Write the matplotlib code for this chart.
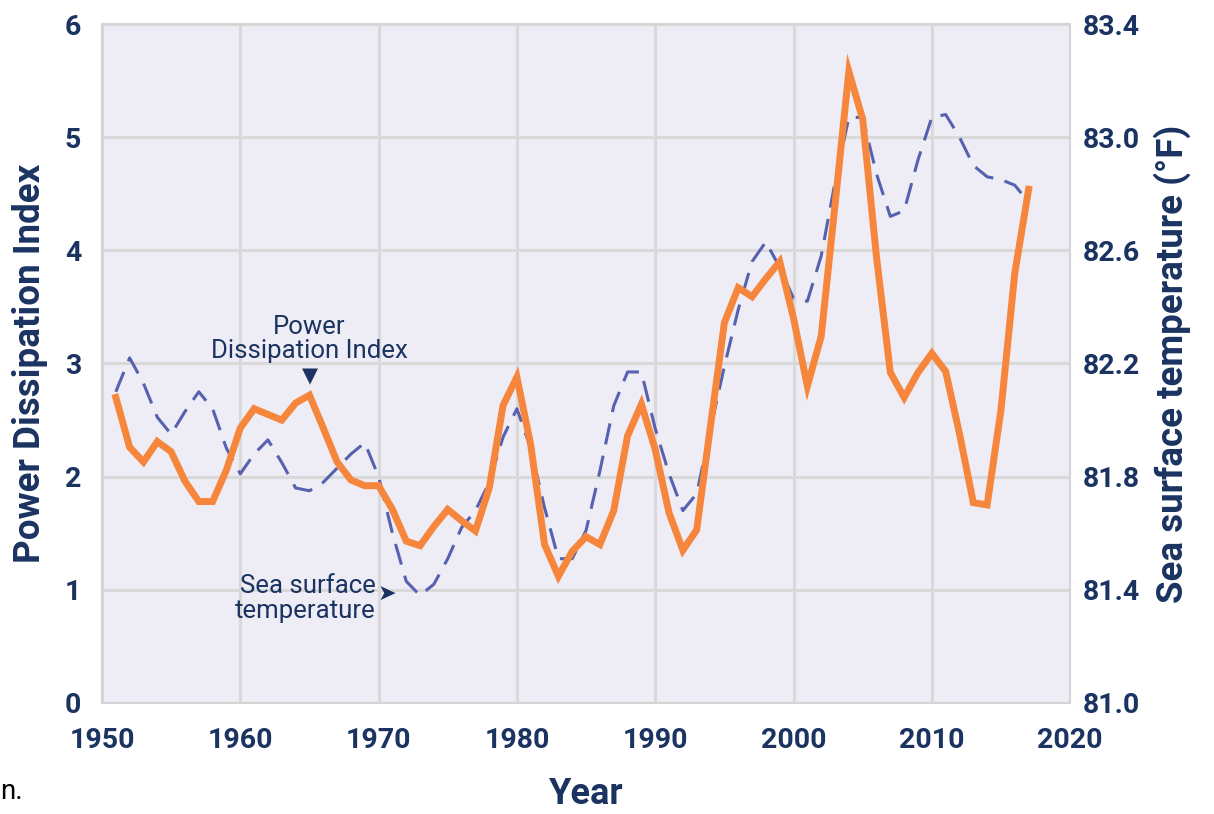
import matplotlib
matplotlib.use('Agg')
import matplotlib.pyplot as plt

plt.rcParams['font.family'] = ['Roboto', 'DejaVu Sans']

# =============================================================================
# DATA
# =============================================================================
years = list(range(1951, 2018))

pdi = [2.70, 2.26, 2.13, 2.31, 2.22, 1.96, 1.78, 1.78, 2.06, 2.43,
       2.60, 2.55, 2.50, 2.65, 2.72, 2.43, 2.13, 1.97, 1.92, 1.92,
       1.71, 1.43, 1.39, 1.56, 1.71, 1.61, 1.52, 1.90, 2.63, 2.88,
       2.28, 1.40, 1.12, 1.34, 1.47, 1.40, 1.70, 2.36, 2.64, 2.24,
       1.68, 1.35, 1.53, 2.45, 3.36, 3.67, 3.59, 3.75, 3.90, 3.40,
       2.80, 3.24, 4.40, 5.58, 5.16, 3.94, 2.92, 2.70, 2.92, 3.09,
       2.93, 2.38, 1.77, 1.75, 2.59, 3.80, 4.54]

sst = [82.10, 82.22, 82.13, 82.01, 81.95, 82.03, 82.10, 82.04, 81.90, 81.81,
       81.88, 81.93, 81.85, 81.76, 81.75, 81.78, 81.83, 81.88, 81.92, 81.80,
       81.60, 81.43, 81.38, 81.42, 81.51, 81.62, 81.68, 81.78, 81.94, 82.04,
       81.90, 81.69, 81.51, 81.51, 81.61, 81.82, 82.05, 82.17, 82.17, 81.97,
       81.81, 81.68, 81.74, 81.97, 82.19, 82.39, 82.56, 82.63, 82.54, 82.43,
       82.42, 82.58, 82.84, 83.07, 83.07, 82.87, 82.72, 82.74, 82.92, 83.07,
       83.08, 83.00, 82.90, 82.86, 82.85, 82.83, 82.77]

x_ticks = [1950, 1960, 1970, 1980, 1990, 2000, 2010, 2020]
left_ticks = [0, 1, 2, 3, 4, 5, 6]
right_ticks = [81.0, 81.4, 81.8, 82.2, 82.6, 83.0, 83.4]

# =============================================================================
# STYLE
# =============================================================================
NAVY = '#1b3361'
ORANGE = '#f5863c'
BLUE = '#5662b0'
BG = '#eeecf5'
GRID = '#d9d9d9'

fig = plt.figure(figsize=(12.14, 8.14), dpi=100)
# right axis (SST) carries background, grid and x axis; drawn behind
ax2 = fig.add_axes([0.084, 0.1364, 0.7975, 0.8341])
# left axis (PDI) on top, transparent
ax = fig.add_axes(ax2.get_position(), sharex=ax2)
ax.patch.set_visible(False)

ax2.set_facecolor(BG)
ax2.set_xlim(1950, 2020)
ax2.set_ylim(81.0, 83.4)
ax.set_ylim(0, 6)

ax2.set_xticks(x_ticks)
ax2.set_yticks(right_ticks)
ax.set_yticks(left_ticks)
ax2.set_xticklabels([str(t) for t in x_ticks])
ax2.set_yticklabels([f'{t:.1f}' for t in right_ticks])
ax.set_yticklabels([str(t) for t in left_ticks])

ax2.yaxis.tick_right()
ax2.yaxis.set_label_position('right')
ax.xaxis.set_visible(False)

ax2.grid(True, color=GRID, linewidth=2.2, zorder=0)
ax2.set_axisbelow(True)
for s in ax2.spines.values():
    s.set_color('#d4d4d4')
    s.set_linewidth(1.5)
for s in ax.spines.values():
    s.set_visible(False)

for a in (ax, ax2):
    a.tick_params(length=0, labelsize=20.5, labelcolor=NAVY)
ax2.tick_params(axis='x', pad=17)
ax.tick_params(axis='y', pad=15)
ax2.tick_params(axis='y', pad=9)
for lab in ax2.get_xticklabels() + ax.get_yticklabels() + ax2.get_yticklabels():
    lab.set_fontweight('bold')

ax2.plot(years, sst, color=BLUE, linewidth=2.2, dashes=(7, 3.8), zorder=2)
ax.plot(years, pdi, color=ORANGE, linewidth=5, solid_joinstyle='miter', zorder=3)

ax.set_ylabel('Power Dissipation Index', fontsize=26.5, fontweight='bold', color=NAVY, labelpad=12)
ax2.set_ylabel('Sea surface temperature (°F)', fontsize=26.5, fontweight='bold', color=NAVY, labelpad=10)
ax2.set_xlabel('Year', fontsize=26, fontweight='bold', color=NAVY, labelpad=16)

# annotations
ax.text(1965, 3.0, 'Power\nDissipation Index', ha='center', va='bottom',
        fontsize=18.5, color=NAVY, linespacing=1.05)
ax.text(1965, 2.89, '\u25BC', ha='center', va='center', fontsize=15,
        color=NAVY, family='DejaVu Sans')
ax.text(1969.8, 0.92, 'Sea surface\ntemperature', ha='right', va='center',
        fontsize=18.5, color=NAVY, linespacing=1.05, multialignment='right')
ax.text(1970.6, 0.96, '\u27A4', ha='center', va='center', fontsize=16,
        color=NAVY, family='DejaVu Sans')

fig.text(0.0, 0.018, 'n.', fontsize=20, color='black')

fig.savefig('out.png', dpi=100, facecolor='white')
